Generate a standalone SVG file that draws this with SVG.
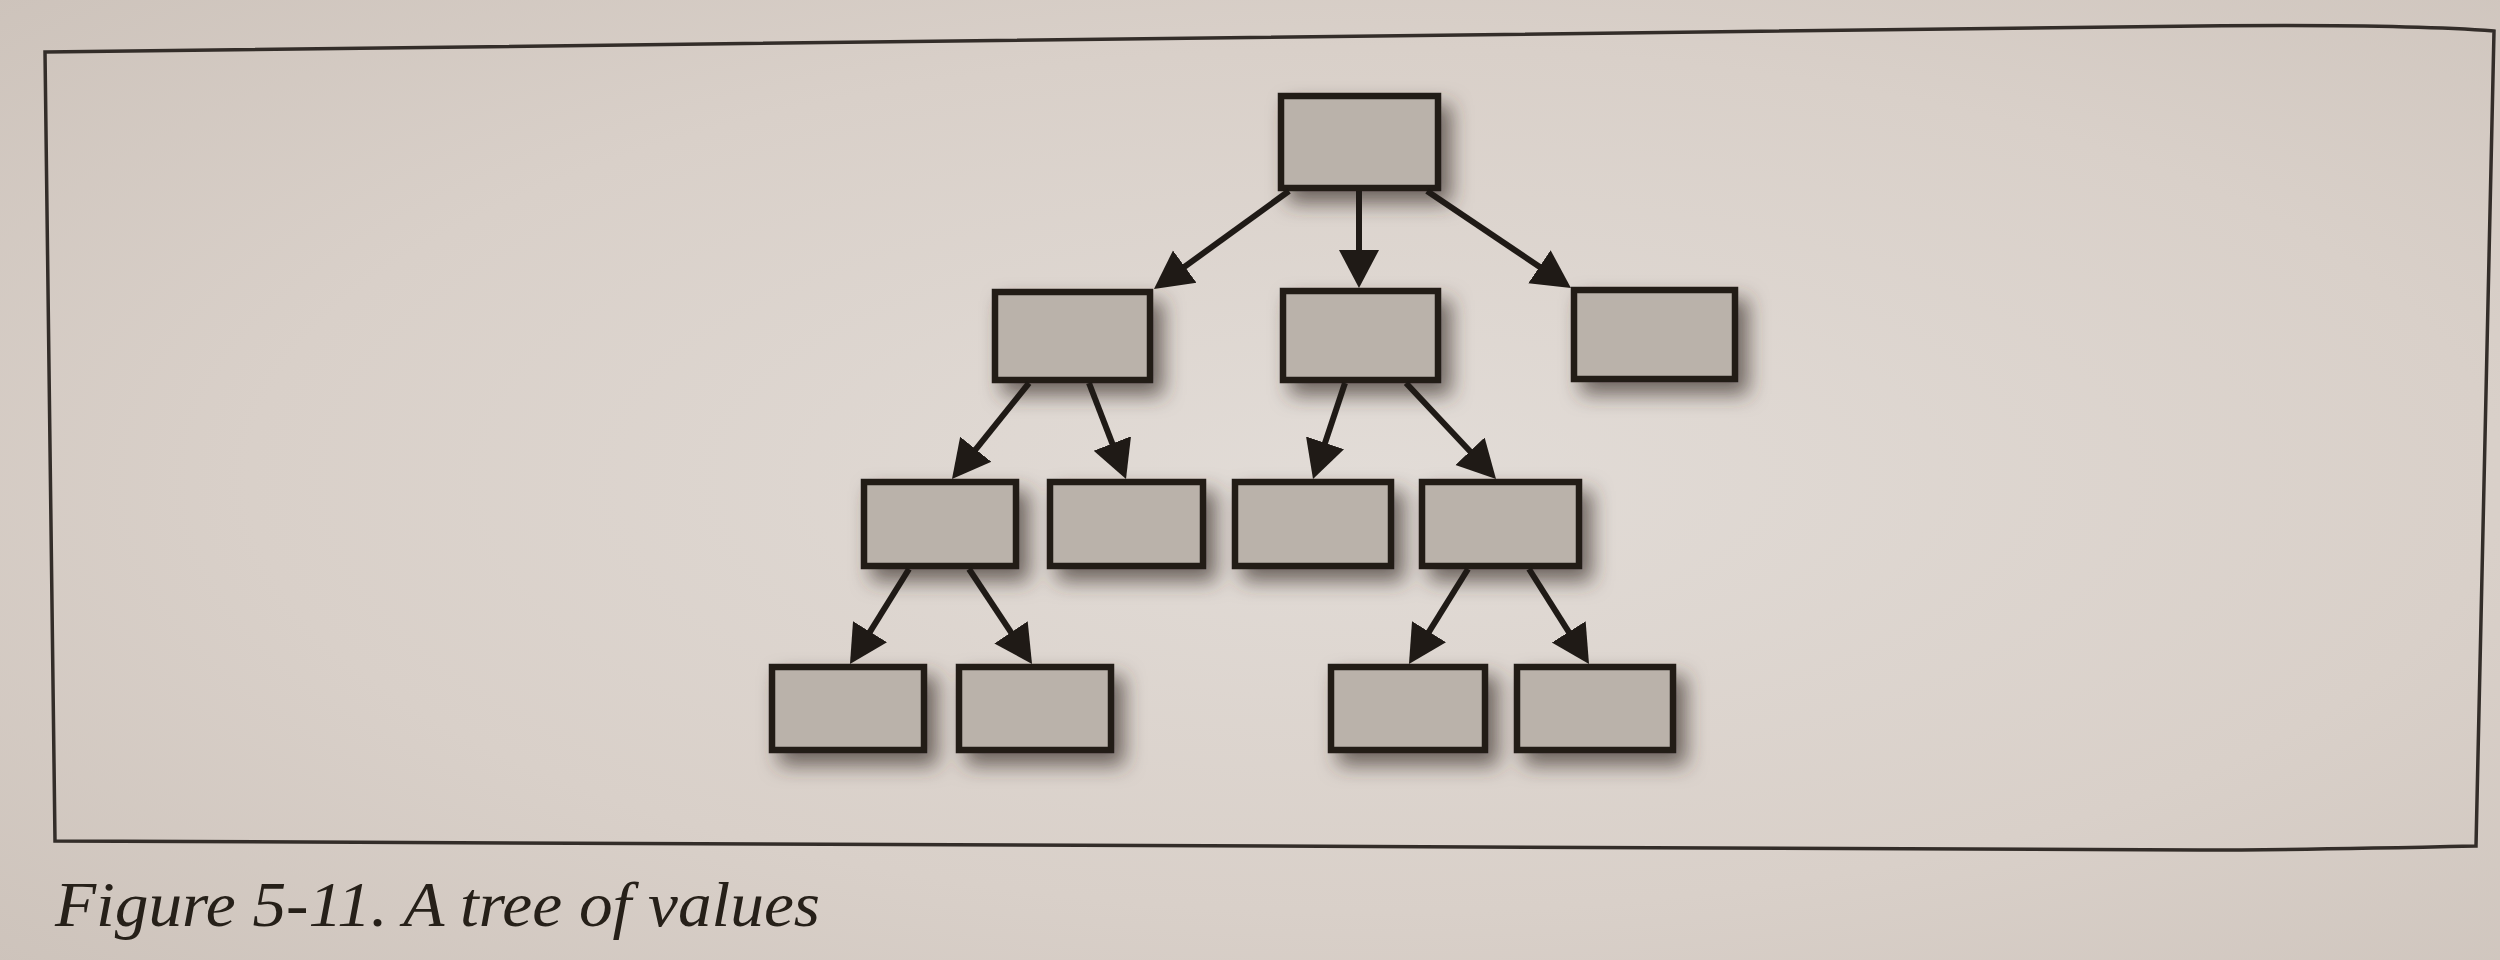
<svg xmlns="http://www.w3.org/2000/svg" width="2500" height="960" viewBox="0 0 2500 960">
  <defs>
    <radialGradient id="paper" cx="0.55" cy="0.5" r="0.75">
      <stop offset="0" stop-color="#e2dcd7"/>
      <stop offset="0.6" stop-color="#d9d0c9"/>
      <stop offset="1" stop-color="#cdc3bb"/>
    </radialGradient>
    <filter id="shadow" x="-25%" y="-25%" width="160%" height="170%">
      <feGaussianBlur in="SourceAlpha" stdDeviation="10" result="b"/>
      <feOffset in="b" dx="10" dy="12" result="o"/>
      <feFlood flood-color="#3e342e" flood-opacity="0.7"/>
      <feComposite in2="o" operator="in" result="s"/>
      <feMerge>
        <feMergeNode in="s"/>
        <feMergeNode in="SourceGraphic"/>
      </feMerge>
    </filter>
    <marker id="arrow" markerUnits="userSpaceOnUse" markerWidth="40" markerHeight="42" viewBox="0 0 40 42" refX="26" refY="21" orient="auto">
      <path d="M0,1 L38,21 L0,41 z" fill="#1f1a16"/>
    </marker>
    <style>
      .box { fill: #bab2aa; stroke: #211c18; stroke-width: 6.5; }
      .edge { stroke: #1f1a16; stroke-width: 6; fill: none; marker-end: url(#arrow); }
      .frame { fill: none; stroke: #332d29; stroke-width: 3.5; }
      .caption { font-family: "Liberation Serif", "DejaVu Serif", serif; font-style: italic; font-size: 64px; fill: #262019; }
    </style>
  </defs>

  <rect x="0" y="0" width="2500" height="960" fill="url(#paper)"/>

  <g id="frame">
    <path class="frame" d="M45,52 Q1300,38 2200,26 Q2400,24 2494,31 L2476,846 Q2300,850 2200,850 Q1200,848 55,841 Z"/>
  </g>

  <g id="nodes" filter="url(#shadow)">
    <g id="n-root"><rect class="box" x="1281" y="96" width="157" height="92"/></g>
    <g id="n-l1a"><rect class="box" x="995" y="292" width="155" height="88"/></g>
    <g id="n-l1b"><rect class="box" x="1283" y="291" width="155" height="89"/></g>
    <g id="n-l1c"><rect class="box" x="1574" y="290" width="161" height="89"/></g>
    <g id="n-l2a"><rect class="box" x="864" y="482" width="152" height="84"/></g>
    <g id="n-l2b"><rect class="box" x="1050" y="482" width="153" height="84"/></g>
    <g id="n-l2c"><rect class="box" x="1235" y="482" width="156" height="84"/></g>
    <g id="n-l2d"><rect class="box" x="1422" y="482" width="157" height="84"/></g>
    <g id="n-l3a"><rect class="box" x="772" y="667" width="152" height="83"/></g>
    <g id="n-l3b"><rect class="box" x="959" y="667" width="152" height="83"/></g>
    <g id="n-l3c"><rect class="box" x="1331" y="667" width="154" height="83"/></g>
    <g id="n-l3d"><rect class="box" x="1517" y="667" width="156" height="83"/></g>
  </g>

  <g id="connectors">
    <line class="edge" x1="1289" y1="191" x2="1163.7" y2="281.9"/>
    <line class="edge" x1="1359" y1="191" x2="1359" y2="276"/>
    <line class="edge" x1="1427" y1="191" x2="1561" y2="281.3"/>
    <line class="edge" x1="1029" y1="383" x2="959.5" y2="469.6"/>
    <line class="edge" x1="1089" y1="383" x2="1121.7" y2="467.8"/>
    <line class="edge" x1="1345" y1="383" x2="1316.8" y2="467.6"/>
    <line class="edge" x1="1406" y1="383" x2="1487.8" y2="470.2"/>
    <line class="edge" x1="909" y1="569" x2="856.3" y2="653.8"/>
    <line class="edge" x1="969" y1="569" x2="1025.4" y2="654"/>
    <line class="edge" x1="1468" y1="569" x2="1415.3" y2="653.8"/>
    <line class="edge" x1="1529" y1="569" x2="1582.6" y2="653.9"/>
  </g>

  <g id="caption">
    <text class="caption" x="55" y="926" textLength="765" lengthAdjust="spacingAndGlyphs">Figure 5-11. A tree of values</text>
  </g>
</svg>
